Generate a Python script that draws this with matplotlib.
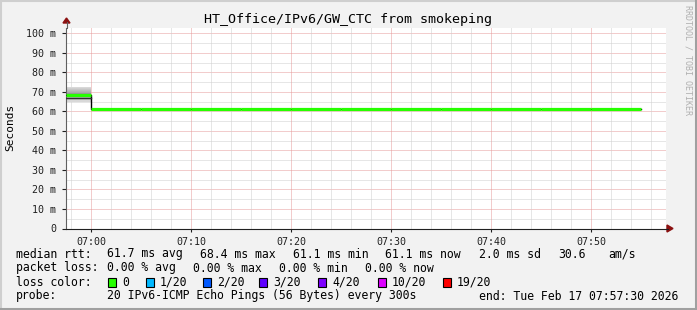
import matplotlib.pyplot as plt
from matplotlib.patches import Rectangle, Polygon

# data
title = "HT_Office/IPv6/GW_CTC from smokeping"
times = ["06:57:30", "07:00", "07:05", "07:10", "07:15", "07:20", "07:25",
         "07:30", "07:35", "07:40", "07:45", "07:50", "07:55"]
median_ms = [68.4, 61.1, 61.1, 61.1, 61.1, 61.1, 61.1, 61.1, 61.1, 61.1, 61.1, 61.1]
# the 20 sorted pings of the first interval (smoke)
pings_first = [65.0, 65.6, 66.1, 66.5, 66.9, 67.2, 67.5, 67.8, 68.0, 68.2,
               68.6, 68.9, 69.2, 69.5, 69.9, 70.3, 70.8, 71.3, 71.8, 72.4]
yticks = [0, 10, 20, 30, 40, 50, 60, 70, 80, 90, 100]
xtick_labels = ["07:00", "07:10", "07:20", "07:30", "07:40", "07:50"]

loss_labels = ["0", "1/20", "2/20", "3/20", "4/20", "10/20", "19/20"]
loss_colors = ["#26ff00", "#00b8ff", "#0059ff", "#5e00ff", "#7e00ff", "#dd00ff", "#ff0000"]


def to_min(t):
    p = [int(v) for v in t.split(":")]
    while len(p) < 3:
        p.append(0)
    return (p[0] - 7) * 60 + p[1] + p[2] / 60.0


W, H = 697, 310
mono = "DejaVu Sans Mono"
plt.rcParams['font.family'] = mono

fig = plt.figure(figsize=(W / 100, H / 100), dpi=100, facecolor="#f2f2f2")

# 3d-ish frame around the image
fig.add_artist(plt.Line2D([0, 1], [1 - 1 / H] * 2, color="#cfcfcf", lw=1.5))
fig.add_artist(plt.Line2D([1 / W] * 2, [0, 1], color="#cfcfcf", lw=1.5))
fig.add_artist(plt.Line2D([1 - 1.5 / W] * 2, [0, 1], color="#a0a0a0", lw=2.2))
fig.add_artist(plt.Line2D([0, 1], [1.5 / H] * 2, color="#a0a0a0", lw=2.2))

left, right, top, bottom = 66, 666, 27.5, 228.5
ax = fig.add_axes([left / W, 1 - bottom / H, (right - left) / W, (bottom - top) / H])
ax.set_facecolor("white")
ax.set_xlim(-2.5, 57.5)
ax.set_ylim(0, 103)

# grid
for y in range(5, 103, 5):
    ax.axhline(y, color="#e79a9a" if y % 10 == 0 else "#cfcfcf", lw=0.72,
               ls=(0, (1, 1)), zorder=0)
for m in range(-2, 58, 2):
    ax.axvline(m, color="#e79a9a" if m % 10 == 0 else "#cfcfcf", lw=0.72,
               ls=(0, (1, 1)), zorder=0)

# smoke for the first interval
t0, t1 = to_min(times[0]), to_min(times[1])
n = len(pings_first)
for i in range(n // 2):
    g = int(0xd8 - i * 9)
    ax.fill_between([t0, t1], pings_first[i], pings_first[n - 1 - i],
                    color="#%02x%02x%02x" % (g, g, g), lw=0, zorder=2)

# median line
xs, ys = [], []
for i, v in enumerate(median_ms):
    a, b = to_min(times[i]), to_min(times[i + 1])
    xs += [a, b]
    ys += [v, v]
ax.plot(xs, ys, color="black", lw=1, zorder=3)
ax.plot([t0, t1], [median_ms[0] - 1.6] * 2, color="#303030", lw=1, zorder=3)
for i, v in enumerate(median_ms):
    a, b = to_min(times[i]), to_min(times[i + 1])
    ax.plot([a, b], [v, v], color=loss_colors[0], lw=2.3, solid_capstyle="butt", zorder=4)

# axes
for s in ["top", "right"]:
    ax.spines[s].set_visible(False)
ax.spines["left"].set_color("#606060")
ax.spines["bottom"].set_color("#202020")
ax.set_yticks(yticks)
ax.set_yticklabels(["0" if v == 0 else "%d m" % v for v in yticks], fontsize=7.2)
ax.set_xticks([to_min(t) for t in xtick_labels])
ax.set_xticklabels(xtick_labels, fontsize=7.2)
ax.tick_params(axis="y", length=3, width=0.8, pad=4, colors="#202020")
ax.tick_params(axis="x", length=2, width=0.8, pad=4, colors="#202020")
fig.text(10 / W, 1 - 127 / H, "Seconds", rotation=90, ha="center", va="center", fontsize=8)

# arrows
fig.add_artist(plt.Line2D([66.5 / W] * 2, [1 - 28 / H, 1 - 22 / H], color="#606060", lw=0.8))
fig.patches.append(Polygon([[63 / W, 1 - 23 / H], [70 / W, 1 - 23 / H], [66.5 / W, 1 - 18 / H]],
                           closed=True, transform=fig.transFigure, color="#8b1010"))
fig.patches.append(Polygon([[667 / W, 1 - 225 / H], [667 / W, 1 - 232 / H], [673 / W, 1 - 228.5 / H]],
                           closed=True, transform=fig.transFigure, color="#8b1010"))
fig.add_artist(plt.Line2D([666 / W, 668 / W], [1 - 228.5 / H] * 2, color="#202020", lw=0.8))


def txt(x, y, s, **kw):
    kw.setdefault("fontsize", 8.3)
    fig.text(x / W, 1 - y / H, s, va="center", ha="left", **kw)


fig.text(348 / W, 1 - 19 / H, title, ha="center", va="center", fontsize=9.6)
fig.text(688 / W, 1 - 5 / H, "RRDTOOL / TOBI OETIKER", rotation=270, ha="center", va="top",
         fontsize=6, color="#b0b0b0")

# legend lines
y1, y2, y3, y4 = 254, 268, 282, 296
txt(16, y1, "median rtt:")
for x, s in [(107, "61.7 ms avg"), (200, "68.4 ms max"), (293, "61.1 ms min"),
             (385, "61.1 ms now"), (479, "2.0 ms sd"), (558, "30.6"), (608, "am/s")]:
    txt(x, y1, s)
txt(16, y2, "packet loss:")
for x, s in [(107, "0.00 % avg"), (193, "0.00 % max"), (279, "0.00 % min"), (365, "0.00 % now")]:
    txt(x, y2, s)
txt(16, y3, "loss color:")
box_x = [108, 146, 203, 259, 318, 378, 443]
for bx, lab, c in zip(box_x, loss_labels, loss_colors):
    fig.patches.append(Rectangle((bx / W, 1 - (y3 + 4.5) / H), 8 / W, 9 / H,
                                 transform=fig.transFigure, facecolor=c,
                                 edgecolor="black", lw=0.8))
    txt(bx + 14, y3, lab)
txt(16, y4, "probe:")
txt(107, y4, "20 IPv6-ICMP Echo Pings (56 Bytes) every 300s")
txt(479, y4, "end: Tue Feb 17 07:57:30 2026")

fig.savefig("out.png", dpi=100, facecolor=fig.get_facecolor())
